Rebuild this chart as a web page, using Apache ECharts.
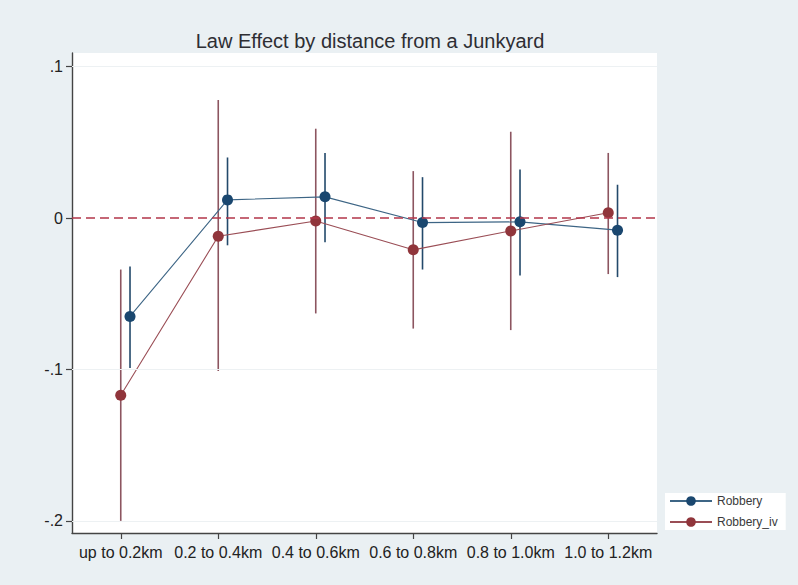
<!DOCTYPE html>
<html>
<head>
<meta charset="utf-8">
<script src="https://cdn.jsdelivr.net/npm/echarts@6/dist/echarts.min.js"></script>
<style>
  html, body { margin: 0; padding: 0; background: #eaf0f3; }
  #chart { width: 798px; height: 585px; }
</style>
</head>
<body>
<div id="chart"></div>
<script>
// Distance bands
var categories = ['up to 0.2km', '0.2 to 0.4km', '0.4 to 0.6km', '0.6 to 0.8km', '0.8 to 1.0km', '1.0 to 1.2km'];

// Robbery: point estimates and confidence bounds
var robbery   = [-0.065, 0.012, 0.014, -0.003, -0.0025, -0.008];
var robberyLo = [-0.099, -0.018, -0.016, -0.034, -0.038, -0.039];
var robberyHi = [-0.032, 0.040, 0.043, 0.027, 0.032, 0.022];

// Robbery (IV): point estimates and confidence bounds
var robberyIv   = [-0.117, -0.012, -0.002, -0.021, -0.0085, 0.0035];
var robberyIvLo = [-0.200, -0.101, -0.063, -0.073, -0.074, -0.037];
var robberyIvHi = [-0.034, 0.078, 0.059, 0.031, 0.057, 0.043];

// Y axis ticks
var yTicks = [-0.2, -0.1, 0, 0.1];
var yTickLabels = ['-.2', '-.1', '0', '.1'];

var BLUE = '#1a476f';
var RED = '#90353b';
var FONT = 'Liberation Sans, Arial, Helvetica, sans-serif';

// horizontal shift of the Robbery estimates so both series stay visible
var SHIFT = 0.095;

function points(vals, shift) {
  return vals.map(function (v, i) { return [i + 1 + shift, v]; });
}
function bars(lo, hi, shift) {
  return lo.map(function (v, i) { return [i + 1 + shift, v, hi[i]]; });
}
function errorBarSeries(name, data, color) {
  return {
    name: name + ' CI',
    type: 'custom',
    silent: true,
    data: data,
    encode: { x: 0, y: [1, 2] },
    renderItem: function (params, api) {
      var a = api.coord([api.value(0), api.value(1)]);
      var b = api.coord([api.value(0), api.value(2)]);
      return {
        type: 'line',
        shape: { x1: a[0], y1: a[1], x2: b[0], y2: b[1] },
        style: { stroke: color, lineWidth: 1.6 }
      };
    },
    z: 2
  };
}

var chart = echarts.init(document.getElementById('chart'), null, { renderer: 'svg' });

chart.setOption({
  backgroundColor: '#eaf0f3',
  animation: false,
  title: {
    text: 'Law Effect by distance from a Junkyard',
    left: 365,
    top: 26,
    textAlign: 'center',
    textStyle: { fontFamily: FONT, fontSize: 20, fontWeight: 'normal', color: '#2e2e33' }
  },
  grid: {
    left: 72, right: 141, top: 53, bottom: 52,
    show: true, backgroundColor: '#ffffff', borderWidth: 0
  },
  legend: {
    orient: 'vertical',
    left: 665, top: 493,
    backgroundColor: '#ffffff',
    padding: [2, 8, 2, 4],
    itemGap: 9,
    itemWidth: 42,
    itemHeight: 12,
    textStyle: { fontFamily: FONT, fontSize: 12, color: '#3a3a3a' },
    data: ['Robbery', 'Robbery_iv']
  },
  xAxis: {
    type: 'value',
    min: 0.5, max: 6.5,
    splitLine: { show: false },
    axisLine: { show: true, onZero: false, lineStyle: { color: '#444', width: 1.4 } },
    axisTick: { show: true, length: 6, customValues: [1, 2, 3, 4, 5, 6], lineStyle: { color: '#444', width: 1.2 } },
    axisLabel: {
      customValues: [1, 2, 3, 4, 5, 6],
      margin: 11,
      fontFamily: FONT, fontSize: 16, color: '#222',
      formatter: function (v) { return categories[Math.round(v) - 1]; }
    }
  },
  yAxis: {
    type: 'value',
    min: -0.208, max: 0.109,
    splitLine: { show: false },
    axisLine: { show: true, onZero: false, lineStyle: { color: '#444', width: 1.4 } },
    axisTick: { show: true, length: 6, customValues: yTicks, lineStyle: { color: '#444', width: 1.2 } },
    axisLabel: {
      customValues: yTicks,
      margin: 9,
      fontFamily: FONT, fontSize: 16, color: '#222',
      formatter: function (v) {
        var k = yTicks.findIndex(function (t) { return Math.abs(t - v) < 1e-9; });
        return k >= 0 ? yTickLabels[k] : '';
      }
    }
  },
  series: [
    // faint gridlines and the dashed zero reference
    {
      name: 'grid',
      type: 'line',
      data: [],
      silent: true,
      markLine: {
        silent: true,
        symbol: 'none',
        label: { show: false },
        data: [
          { yAxis: 0.1, lineStyle: { color: '#edf1f3', width: 1, type: 'solid' } },
          { yAxis: -0.1, lineStyle: { color: '#edf1f3', width: 1, type: 'solid' } },
          { yAxis: -0.2, lineStyle: { color: '#edf1f3', width: 1, type: 'solid' } },
          { yAxis: 0, lineStyle: { color: '#b3364a', width: 1.6, type: [9, 5] } }
        ]
      },
      z: 1
    },
    errorBarSeries('Robbery', bars(robberyLo, robberyHi, SHIFT), '#23496b'),
    {
      name: 'Robbery',
      type: 'line',
      data: points(robbery, SHIFT),
      symbol: 'circle',
      symbolSize: 11,
      itemStyle: { color: BLUE },
      lineStyle: { color: '#3d6585', width: 1.1 },
      z: 4
    },
    errorBarSeries('Robbery_iv', bars(robberyIvLo, robberyIvHi, 0), '#8c5560'),
    {
      name: 'Robbery_iv',
      type: 'line',
      data: points(robberyIv, 0),
      symbol: 'circle',
      symbolSize: 11,
      itemStyle: { color: RED },
      lineStyle: { color: '#9a4d55', width: 1.1 },
      z: 4
    }
  ]
});
</script>
</body>
</html>
